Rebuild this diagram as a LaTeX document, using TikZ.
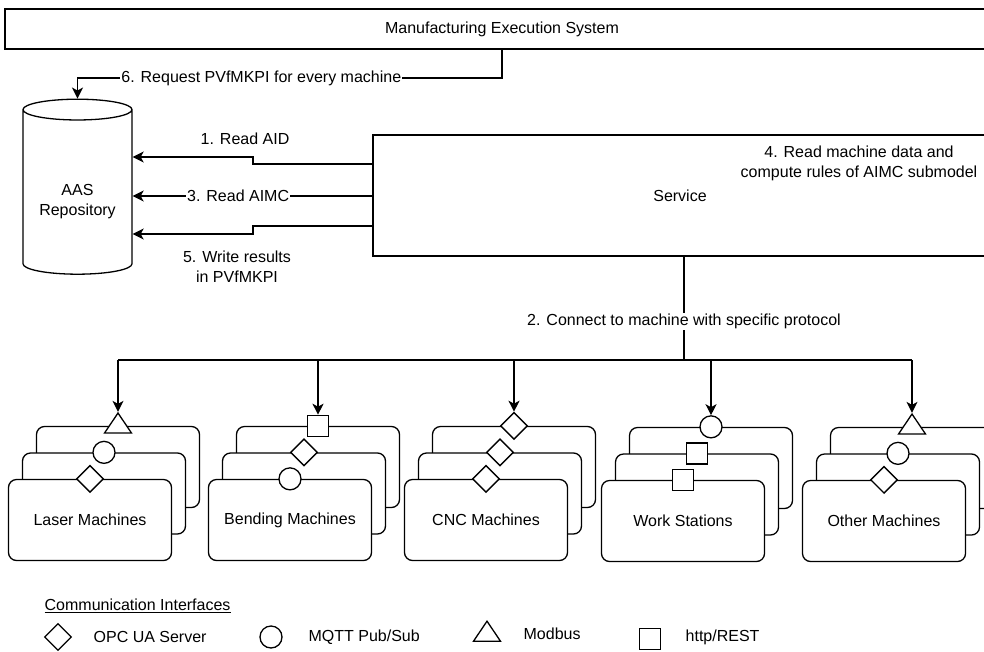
\documentclass[tikz,border=0pt]{standalone}
\usepackage{fontspec}
\setmainfont{Liberation Sans}
\usetikzlibrary{shapes.geometric,arrows.meta}

\tikzset{
  box/.style={draw, inner sep=0pt},
  card/.style={draw, fill=white, rounded corners=8pt, minimum width=163pt, minimum height=81pt, inner sep=0pt},
  dia/.style={draw, fill=white, diamond, minimum width=27pt, minimum height=27pt, inner sep=0pt},
  circ/.style={draw, fill=white, circle, minimum size=22pt, inner sep=0pt},
  sq/.style={draw, fill=white, rectangle, minimum size=21pt, inner sep=0pt},
  tri/.style={draw, fill=white, isosceles triangle, isosceles triangle apex angle=68, shape border rotate=90, minimum height=20pt, inner sep=0pt},
  lbl/.style={fill=white, inner sep=1pt},
  txt/.style={anchor=west, inner sep=0pt},
}

\begin{document}
\begin{tikzpicture}[x=1pt, y=-1pt, line width=1.3pt, font=\fontsize{16}{20}\selectfont,
    >={Stealth[length=11pt,width=11pt,inset=3pt]}]
  \useasboundingbox (0,0) rectangle (984,651);
  \clip (0,0) rectangle (984,651);

  % Systems
  \node[box, minimum width=994pt, minimum height=40pt] (mes) at (502,29) {Manufacturing Execution System};
  \node[box, minimum width=614pt, minimum height=121pt] (service) at (680,195.5) {Service};
  \node[align=center] (compute) at (859,163) {4. Read machine data and\\compute rules of AIMC submodel};
  \node[draw, cylinder, shape border rotate=90, aspect=0.25, minimum width=109pt, minimum height=175pt, align=center] (repo) at (77.5,194) {\phantom{AAS}\\\phantom{Repository}};
  \node[align=center] (repotxt) at (77.5,202) {AAS\\Repository};

  % Service <-> repository
  \draw[->] (service.west |- 0,164) -- (253,164) -- (253,157) -- (repo.east |- 0,157);
  \draw[->] (service.west |- 0,196) -- node[lbl, pos=0.56] {3. Read AIMC} (repo.east |- 0,196);
  \draw[->] (service.west |- 0,226) -- (253,226) -- (253,234) -- (repo.east |- 0,234);
  \node (readaid) at (245,139) {1. Read AID};
  \node[align=center] (write) at (237,267) {5. Write results\\in PVfMKPI};

  % MES -> repository
  \draw[->] (mes.south) -- (502,78) -- node[lbl, pos=0.567] {6. Request PVfMKPI for every machine} (repo.north |- 0,78) -- (repo.north);

  % Machine stacks
  \node[card] (laser3) at (118,467) {};
  \node[card] (laser2) at (104,493.5) {};
  \node[card] (laser1) at (90,520) {Laser Machines};
  \node[tri] (laser3if) at (laser3.north) {};
  \node[circ] (laser2if) at (laser2.north) {};
  \node[dia] (laser1if) at (laser1.north) {};

  \node[card] (bend3) at (318,467) {};
  \node[card] (bend2) at (304,493.5) {};
  \node[card] (bend1) at (290,520) {Bending Machines};
  \node[sq] (bend3if) at (bend3.north) {};
  \node[dia] (bend2if) at (bend2.north) {};
  \node[circ] (bend1if) at (bend1.north) {};

  \node[card] (cnc3) at (514,467) {};
  \node[card] (cnc2) at (500,493.5) {};
  \node[card] (cnc1) at (486,520) {CNC Machines};
  \node[dia] (cnc3if) at (cnc3.north) {};
  \node[dia] (cnc2if) at (cnc2.north) {};
  \node[dia] (cnc1if) at (cnc1.north) {};

  \node[card] (work3) at (711,468) {};
  \node[card] (work2) at (697,494.5) {};
  \node[card] (work1) at (683,521) {Work Stations};
  \node[circ] (work3if) at (work3.north) {};
  \node[sq] (work2if) at (work2.north) {};
  \node[sq] (work1if) at (work1.north) {};

  \node[card] (other3) at (912,468) {};
  \node[card] (other2) at (898,494.5) {};
  \node[card] (other1) at (884,521) {Other Machines};
  \node[tri] (other3if) at (other3.north) {};
  \node[circ] (other2if) at (other2.north) {};
  \node[dia] (other1if) at (other1.north) {};

  % Service -> machines
  \coordinate (bus) at (684,360);
  \draw (service.south -| bus) -- node[lbl, pos=0.625] {2. Connect to machine with specific protocol} (bus);
  \draw (bus -| laser3if) -- (bus -| other3if);
  \draw[->] (bus -| laser3if) -- (laser3if.north);
  \draw[->] (bus -| bend3if) -- (bend3if.north);
  \draw[->] (bus -| cnc3if) -- (cnc3if.north);
  \draw[->] (bus -| work3if) -- (work3if.north);
  \draw[->] (bus -| other3if) -- (other3if.north);

  % Legend
  \node[txt] (legend) at (44,606) {\underline{Communication Interfaces}};
  \node[dia] (opc) at (58,637) {};
  \node[txt] (opctxt) at (93,637) {OPC UA Server};
  \node[circ] (mqtt) at (271,637) {};
  \node[txt] (mqtttxt) at (308,637) {MQTT Pub/Sub};
  \node[tri] (modbus) at (487,634) {};
  \node[txt] (modbustxt) at (523,634) {Modbus};
  \node[sq] (http) at (650,639) {};
  \node[txt] (httptxt) at (685,637) {http/REST};
\end{tikzpicture}
\end{document}
